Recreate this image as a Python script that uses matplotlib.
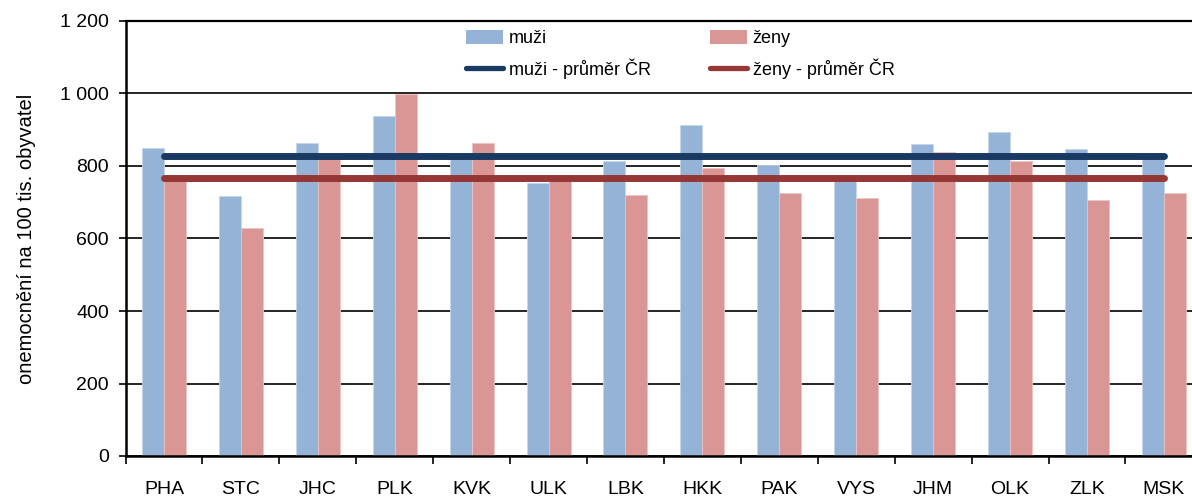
import matplotlib
matplotlib.use("Agg")
import matplotlib.pyplot as plt
import numpy as np
from matplotlib.lines import Line2D
from matplotlib.patches import Patch

plt.rcParams['font.family'] = ['Liberation Sans', 'DejaVu Sans']

regions = ["PHA", "STC", "JHC", "PLK", "KVK", "ULK", "LBK", "HKK", "PAK", "VYS",
           "JHM", "OLK", "ZLK", "MSK"]
muzi = [849, 718, 863, 938, 822, 754, 814, 913, 803, 768, 862, 894, 848, 820]
zeny = [760, 629, 820, 998, 863, 765, 719, 794, 725, 712, 839, 815, 705, 725]
muzi_prumer = 828
zeny_prumer = 766

yticks = [0, 200, 400, 600, 800, 1000, 1200]
ytick_labels = ["0", "200", "400", "600", "800", "1 000", "1 200"]

c_muzi = "#95B3D7"
c_zeny = "#D99694"
c_muzi_avg = "#1B3A63"
c_zeny_avg = "#953735"

fig = plt.figure(figsize=(11.92, 5.0), dpi=100)
ax = fig.add_axes([0.1053, 0.088, 0.9034, 0.870])

x = np.arange(len(regions))
w = 0.286
ax.bar(x - w / 2, muzi, width=w, color=c_muzi, edgecolor="#C6D6EA", linewidth=0.6, zorder=2)
ax.bar(x + w / 2, zeny, width=w, color=c_zeny, edgecolor="#EBC3C2", linewidth=0.6, zorder=2)

ax.plot([x[0], x[-1]], [muzi_prumer, muzi_prumer], color=c_muzi_avg, lw=5,
        solid_capstyle="round", zorder=3)
ax.plot([x[0], x[-1]], [zeny_prumer, zeny_prumer], color=c_zeny_avg, lw=5,
        solid_capstyle="round", zorder=3)

ax.set_xlim(-0.5, len(regions) - 0.5)
ax.set_ylim(0, 1200)
ax.set_yticks(yticks)
ax.set_yticklabels(ytick_labels, fontsize=14)
ax.set_xticks(x)
ax.set_xticklabels(regions, fontsize=14)
ax.tick_params(axis="x", which="major", length=0, pad=18)
ax.set_xticks(np.arange(-0.5, len(regions), 1.0), minor=True)
ax.tick_params(axis="x", which="minor", length=6, width=1.2, direction="out", color="black")
ax.tick_params(axis="y", length=5, width=1.2, direction="out", pad=7)

ax.yaxis.grid(True, color="black", linewidth=1.2, zorder=1)
ax.set_axisbelow(True)
ax.spines["right"].set_visible(False)
ax.spines["top"].set_linewidth(1.6)
ax.spines["left"].set_linewidth(1.8)
ax.spines["bottom"].set_linewidth(1.8)

ax.set_ylabel("onemocnění na 100 tis. obyvatel", fontsize=14.5, labelpad=17)

handles = [
    Patch(facecolor=c_muzi, edgecolor="none", label="muži"),
    Line2D([0], [0], color=c_muzi_avg, lw=3.8, solid_capstyle="round", label="muži - průměr ČR"),
    Patch(facecolor=c_zeny, edgecolor="none", label="ženy"),
    Line2D([0], [0], color=c_zeny_avg, lw=3.8, solid_capstyle="round", label="ženy - průměr ČR"),
]
leg = fig.legend(handles=handles, ncol=2, loc="upper left",
                 bbox_to_anchor=(0.3775, 0.972), frameon=False, fontsize=13,
                 handlelength=2.05, handleheight=0.75, handletextpad=0.3,
                 columnspacing=3.3, labelspacing=0.6)

fig.savefig("out.png", dpi=100)
